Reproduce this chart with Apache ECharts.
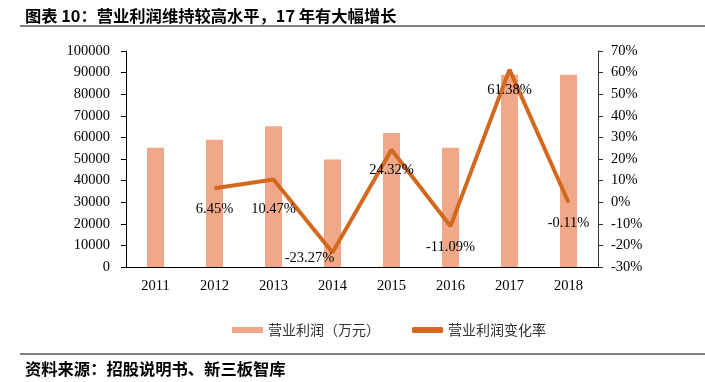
<!DOCTYPE html>
<html>
<head>
<meta charset="utf-8">
<script src="https://cdn.jsdelivr.net/npm/echarts@6/dist/echarts.min.js"></script>
<style>
html,body{margin:0;padding:0;background:#fff;}
#c{width:705px;height:382px;}
</style>
</head>
<body>
<div id="c"></div>
<script>
const categories = ['2011','2012','2013','2014','2015','2016','2017','2018'];
const profit = [55200, 58900, 65200, 49800, 62000, 55200, 89000, 89000];
const changeRate = [null, 6.45, 10.47, -23.27, 24.32, -11.09, 61.38, -0.11];
const leftTicks = [0, 10000, 100000];
const rightTicks = [-30, 10, 70];
const titleText = '图表 10：营业利润维持较高水平，17 年有大幅增长';
const sourceText = '资料来源：招股说明书、新三板智库';

// label nudges (style only, keyed by category)
const labelNudge = {'2013': [0, 9], '2014': [-23, -15]};

const chart = echarts.init(document.getElementById('c'));
const serif = '"Liberation Serif","Times New Roman",serif';
const cjk = '"Noto Sans CJK SC","Noto Sans",sans-serif';
const lineData = changeRate.map((v, i) => {
  const n = labelNudge[categories[i]];
  return n ? {value: v, label: {offset: n}} : v;
});
chart.setOption({
  animation: false,
  backgroundColor: '#fff',
  title: [
    {text: titleText, left: 20, top: 3, textStyle: {fontFamily: cjk, fontSize: 16.3, fontWeight: 'bold', color: '#000'}},
    {text: sourceText, left: 20, top: 356, textStyle: {fontFamily: cjk, fontSize: 16.3, fontWeight: 'bold', color: '#000'}}
  ],
  graphic: [
    {type: 'line', shape: {x1: 20, y1: 26, x2: 705, y2: 26}, style: {stroke: '#555', lineWidth: 1.5}},
    {type: 'line', shape: {x1: 20, y1: 354, x2: 705, y2: 354}, style: {stroke: '#555', lineWidth: 1.5}}
  ],
  grid: {left: 126, right: 107, top: 51, bottom: 115},
  legend: {
    top: 318, left: 227, itemGap: 32, itemWidth: 31, itemHeight: 6,
    textStyle: {fontFamily: cjk, fontSize: 14, color: '#333'},
    data: [
      {name: '营业利润（万元）', icon: 'rect'},
      {name: '营业利润变化率', icon: 'roundRect', itemStyle: {color: '#D2691E'}}
    ]
  },
  xAxis: {
    type: 'category', data: categories,
    axisLine: {lineStyle: {color: '#000', width: 1}},
    axisTick: {show: false},
    axisLabel: {fontFamily: serif, fontSize: 14.5, color: '#000', margin: 12}
  },
  yAxis: [
    {
      type: 'value', min: leftTicks[0], max: leftTicks[2], interval: leftTicks[1],
      axisLine: {show: true, lineStyle: {color: '#000'}},
      axisTick: {show: true, length: 5, lineStyle: {color: '#000'}},
      splitLine: {show: false},
      axisLabel: {fontFamily: serif, fontSize: 14.5, color: '#000', margin: 16, formatter: v => String(v)}
    },
    {
      type: 'value', min: rightTicks[0], max: rightTicks[2], interval: rightTicks[1],
      axisLine: {show: true, lineStyle: {color: '#333'}},
      axisTick: {show: true, length: 5, lineStyle: {color: '#333'}},
      splitLine: {show: false},
      axisLabel: {fontFamily: serif, fontSize: 14.5, color: '#000', margin: 13, formatter: '{value}%'}
    }
  ],
  series: [
    {
      name: '营业利润（万元）', type: 'bar', data: profit, yAxisIndex: 0,
      barWidth: 17, itemStyle: {color: '#F0A888'}
    },
    {
      name: '营业利润变化率', type: 'line', data: lineData, yAxisIndex: 1,
      symbol: 'circle', symbolSize: 1, showSymbol: true,
      lineStyle: {color: '#D2691E', width: 4}, itemStyle: {color: '#D2691E'},
      label: {show: true, position: 'bottom', distance: 13, fontFamily: serif, fontSize: 14.5, color: '#000',
        formatter: p => p.value == null ? '' : p.value.toFixed(2) + '%'}
    }
  ]
});
</script>
</body>
</html>
